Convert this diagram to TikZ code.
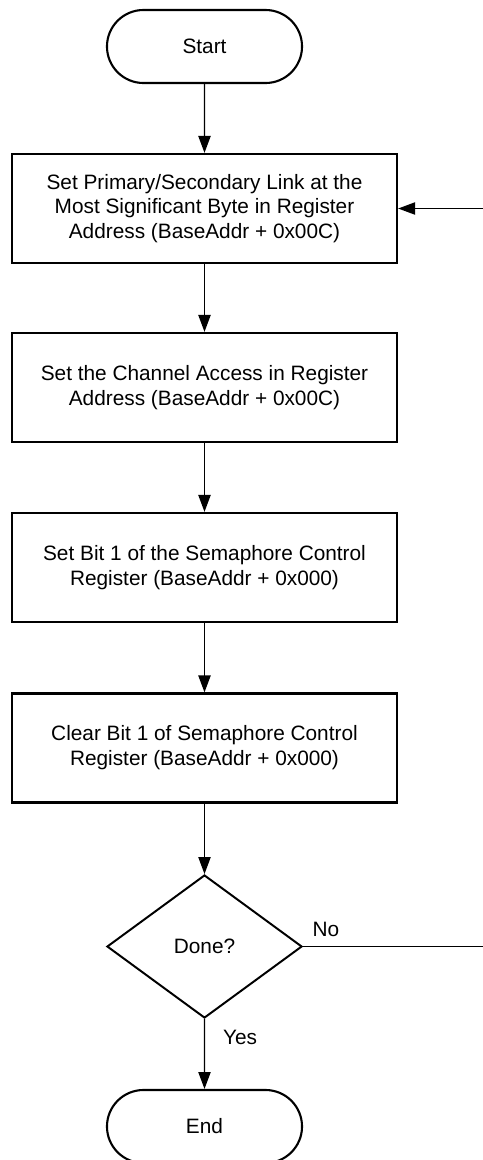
\documentclass[tikz,border=0pt]{standalone}
\usepackage{fontspec}
\setmainfont{Liberation Sans}
\usetikzlibrary{shapes.geometric,shapes.misc,arrows.meta}

\begin{document}
\begin{tikzpicture}[x=0.025cm,y=-0.025cm,
		term/.style={rounded rectangle,draw,line width=1.5pt,minimum width=4.875cm,minimum height=1.825cm,inner sep=0pt},
		box/.style={rectangle,draw,line width=1.6pt,minimum width=9.625cm,minimum height=2.725cm,align=center,inner sep=0pt},
		dec/.style={diamond,draw,line width=1.4pt,aspect=1.36,minimum width=4.875cm,minimum height=3.575cm,inner sep=0pt},
		flow/.style={line width=0.9pt,-{Triangle[length=12pt,width=8.7pt]}},
		font=\fontsize{14.8}{17.7}\selectfont]
			\useasboundingbox (0,0) rectangle (482,1160);

			\node[term] (st) at (204.5,46.5) {Start};
			\node[box] (b1) at (204.5,208.5) {Set Primary/Secondary Link at the\\Most Significant Byte in Register\\Address (BaseAddr + 0x00C)};
			\node[box] (b2) at (204.5,387.5) {Set the Channel Access in Register\\Address (BaseAddr + 0x00C)};
			\node[box] (b3) at (204.5,567.5) {Set Bit 1 of the Semaphore Control\\Register (BaseAddr + 0x000)};
			\node[box] (b4) at (204.5,748) {Clear Bit 1 of Semaphore Control\\Register (BaseAddr + 0x000)};
			\node[dec] (dn) at (204.5,946.5) {Done?};
			\node[term] (en) at (204.5,1126.5) {End};
			\node (no) at (326,929) {No};
			\node (yes) at (240,1037) {Yes};

			\path[flow,draw] (st) -- (b1);
			\path[flow,draw] (b1) -- (b2);
			\path[flow,draw] (b2) -- (b3);
			\path[flow,draw] (b3) -- (b4);
			\path[flow,draw] (b4) -- (dn);
			\path[flow,draw] (dn) -- (en);
			\path[flow,draw] (dn.east) -- ++(190,0) |- (b1.east);
		\end{tikzpicture}
\end{document}
